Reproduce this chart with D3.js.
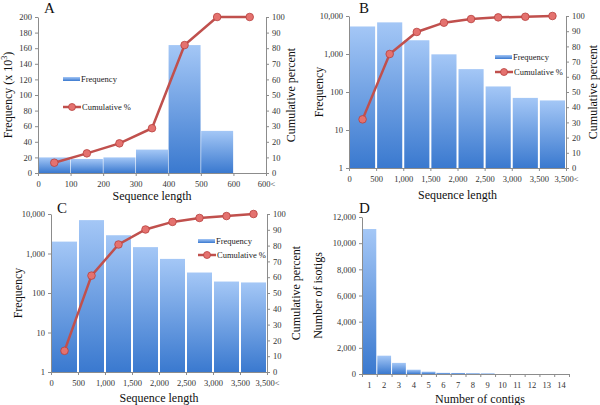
<!DOCTYPE html>
<html>
<head>
<meta charset="utf-8">
<script src="https://cdn.jsdelivr.net/npm/d3@7"></script>
<style>
  body { margin: 0; background: #fff; }
  svg { display: block; font-family: "Liberation Serif", "Times New Roman", serif; }
  .axis path, .axis line { stroke: #8c8c8c; }
</style>
</head>
<body>
<div id="chart"></div>
<script>
// panel A
const aLabels = ["0", "100", "200", "300", "400", "500", "600", "600<"];
const aFreq = [20, 18, 20, 30, 164, 54, 0];
const aCum = [6.6, 12.6, 19, 28.7, 82, 100, 100];

// panel B
const bLabels = ["0", "500", "1,000", "1,500", "2,000", "2,500", "3,000", "3,500", "3,500<"];
const bFreq = [5300, 6800, 2300, 980, 400, 140, 70, 60];
const bCum = [32, 75, 89.5, 95.6, 98, 99.1, 99.5, 100];

// panel C
const cLabels = ["0", "500", "1,000", "1,500", "2,000", "2,500", "3,000", "3,500", "3,500<"];
const cFreq = [2000, 7000, 2900, 1450, 730, 330, 195, 185];
const cCum = [13.4, 61, 80.7, 90.2, 95, 97.5, 98.7, 100];

// panel D
const dLabels = ["1", "2", "3", "4", "5", "6", "7", "8", "9", "10", "11", "12", "13", "14"];
const dCount = [11080, 1400, 850, 330, 180, 90, 80, 60, 50, 0, 0, 0, 0, 0];

const W = 600, H = 405;
const serif = "'Liberation Serif', 'Times New Roman', serif";
const svg = d3.select("#chart").append("svg").attr("width", W).attr("height", H);

const defs = svg.append("defs");
const grad = defs.append("linearGradient")
  .attr("id", "barGrad")
  .attr("x1", 0).attr("y1", 0).attr("x2", 0).attr("y2", 1);
grad.append("stop").attr("offset", "0%").attr("stop-color", "#a4c7f6");
grad.append("stop").attr("offset", "100%").attr("stop-color", "#3a79cf");

const lineColor = "#c0504d";
const dotFill = "#e4726f";

// d3 axes put sans-serif on their group, so set it back here
function styleAxis(a) {
  a.attr("font-family", serif).attr("font-size", 8.5);
  a.selectAll("text").attr("fill", "#333").style("font-family", serif);
}

function histPanel(o) {
  const n = o.freq.length;
  const x = d3.scaleLinear().domain([0, n]).range([o.left, o.right]);
  const y = o.log
    ? d3.scaleLog().domain([1, 10000]).range([o.bottom, o.top])
    : d3.scaleLinear().domain([0, 200]).range([o.bottom, o.top]);
  const y2 = d3.scaleLinear().domain([0, 100]).range([o.bottom, o.top]);

  const g = svg.append("g");

  // bars
  o.freq.forEach((d, i) => {
    if (d <= 0) return;
    g.append("rect")
      .attr("x", x(i) + o.gap / 2)
      .attr("width", x(i + 1) - x(i) - o.gap)
      .attr("y", y(d))
      .attr("height", y(o.log ? 1 : 0) - y(d))
      .attr("fill", "url(#barGrad)");
  });

  // axes
  g.append("g").attr("class", "axis")
    .attr("transform", `translate(0,${o.bottom})`)
    .call(d3.axisBottom(x).tickValues(d3.range(n + 1)).tickFormat(i => o.labels[i]).tickSize(3).tickSizeOuter(0))
    .call(styleAxis)
    .selectAll("text").attr("dy", "0.9em");

  const yAxis = o.log
    ? d3.axisLeft(y).tickValues([1, 10, 100, 1000, 10000]).tickFormat(d3.format(","))
    : d3.axisLeft(y).tickValues(d3.range(0, 201, 20));
  g.append("g").attr("class", "axis")
    .attr("transform", `translate(${o.left},0)`)
    .call(yAxis.tickSize(3).tickSizeOuter(0))
    .call(styleAxis);

  g.append("g").attr("class", "axis")
    .attr("transform", `translate(${o.right},0)`)
    .call(d3.axisRight(y2).tickValues(d3.range(0, 101, 10)).tickSize(3).tickSizeOuter(0))
    .call(styleAxis);

  // cumulative line
  const line = d3.line().x((d, i) => x(i + 0.5)).y(d => y2(d));
  g.append("path")
    .datum(o.cum)
    .attr("fill", "none")
    .attr("stroke", lineColor)
    .attr("stroke-width", 2.5)
    .attr("d", line);
  g.selectAll("circle.pt")
    .data(o.cum)
    .enter()
    .append("circle")
    .attr("class", "pt")
    .attr("cx", (d, i) => x(i + 0.5))
    .attr("cy", d => y2(d))
    .attr("r", 3.8)
    .attr("fill", dotFill)
    .attr("stroke", "#b8403d")
    .attr("stroke-width", 0.8);

  // legend
  g.append("rect")
    .attr("x", o.legX).attr("y", o.legY - 2)
    .attr("width", 17).attr("height", 4)
    .attr("fill", "url(#barGrad)");
  g.append("text")
    .attr("x", o.legX + 18).attr("y", o.legY + 3)
    .attr("font-size", 8.5).attr("fill", "#222")
    .text("Frequency");
  g.append("line")
    .attr("x1", o.legX).attr("x2", o.legX + 18)
    .attr("y1", o.legY + o.legGap).attr("y2", o.legY + o.legGap)
    .attr("stroke", lineColor).attr("stroke-width", 2.5);
  g.append("circle")
    .attr("cx", o.legX + 9).attr("cy", o.legY + o.legGap)
    .attr("r", 3.5).attr("fill", dotFill)
    .attr("stroke", "#b8403d").attr("stroke-width", 0.8);
  g.append("text")
    .attr("x", o.legX + 19).attr("y", o.legY + o.legGap + 3)
    .attr("font-size", 8.5).attr("fill", "#222")
    .text("Cumulative %");

  // titles
  const midY = (o.top + o.bottom) / 2;
  const yt = g.append("text")
    .attr("transform", `translate(${o.yTitleX},${midY}) rotate(-90)`)
    .attr("text-anchor", "middle")
    .attr("font-size", 12).attr("fill", "#111");
  if (o.yTitleSup) {
    yt.append("tspan").text("Frequency (x 10");
    yt.append("tspan").attr("font-size", 8).attr("dy", -5).text("3");
    yt.append("tspan").attr("dy", 5).text(")");
  } else {
    yt.text(o.yTitle);
  }
  g.append("text")
    .attr("transform", `translate(${o.y2TitleX},${midY}) rotate(-90)`)
    .attr("text-anchor", "middle")
    .attr("font-size", 12).attr("fill", "#111")
    .text("Cumulative percent");
  g.append("text")
    .attr("x", (o.left + o.right) / 2).attr("y", o.xTitleY)
    .attr("text-anchor", "middle")
    .attr("font-size", 12).attr("fill", "#111")
    .text("Sequence length");
  g.append("text")
    .attr("x", o.letterX).attr("y", o.letterY)
    .attr("font-size", 15).attr("fill", "#111")
    .text(o.letter);
}

histPanel({
  letter: "A", letterX: 44, letterY: 13,
  labels: aLabels, freq: aFreq, cum: aCum, log: false, gap: 0.6,
  left: 38, right: 266, top: 17, bottom: 173,
  yTitleSup: true, yTitleX: 12, y2TitleX: 295, xTitleY: 200,
  legX: 63, legY: 79, legGap: 28
});

histPanel({
  letter: "B", letterX: 359, letterY: 13,
  labels: bLabels, freq: bFreq, cum: bCum, log: true, gap: 2,
  left: 349, right: 566, top: 16, bottom: 168,
  yTitle: "Frequency", yTitleX: 323, y2TitleX: 597, xTitleY: 199,
  legX: 495, legY: 57, legGap: 15
});

histPanel({
  letter: "C", letterX: 57, letterY: 213,
  labels: cLabels, freq: cFreq, cum: cCum, log: true, gap: 2,
  left: 51, right: 267, top: 214, bottom: 372,
  yTitle: "Frequency", yTitleX: 22, y2TitleX: 300, xTitleY: 402,
  legX: 198, legY: 241, legGap: 14
});

// panel D
(function () {
  const left = 362, right = 569, top = 217, bottom = 374;
  const n = dCount.length;
  const xb = d3.scaleBand().domain(dLabels).range([left, right]);
  const xl = d3.scaleLinear().domain([0, n]).range([left, right]);
  const y = d3.scaleLinear().domain([0, 12000]).range([bottom, top]);
  const g = svg.append("g");

  g.selectAll("rect")
    .data(dCount)
    .enter()
    .append("rect")
    .attr("x", (d, i) => xb(dLabels[i]) + 0.5)
    .attr("width", xb.bandwidth() - 1)
    .attr("y", d => y(d))
    .attr("height", d => bottom - y(d))
    .attr("fill", "url(#barGrad)");

  g.append("g").attr("class", "axis")
    .attr("transform", `translate(0,${bottom})`)
    .call(d3.axisBottom(xl).tickValues(d3.range(n + 1)).tickFormat("").tickSize(3).tickSizeOuter(0))
    .call(styleAxis);
  g.append("g").attr("class", "axis")
    .attr("transform", `translate(0,${bottom})`)
    .call(d3.axisBottom(xb).tickSize(0))
    .call(styleAxis)
    .call(a => a.select(".domain").remove())
    .selectAll("text").attr("dy", "1.25em");

  g.append("g").attr("class", "axis")
    .attr("transform", `translate(${left},0)`)
    .call(d3.axisLeft(y).tickValues(d3.range(0, 12001, 2000)).tickFormat(d3.format(",")).tickSize(3).tickSizeOuter(0))
    .call(styleAxis);

  g.append("text")
    .attr("transform", `translate(322,${(top + bottom) / 2}) rotate(-90)`)
    .attr("text-anchor", "middle")
    .attr("font-size", 12).attr("fill", "#111")
    .text("Number of isotigs");
  g.append("text")
    .attr("x", 480).attr("y", 403)
    .attr("text-anchor", "middle")
    .attr("font-size", 12).attr("fill", "#111")
    .text("Number of contigs");
  g.append("text")
    .attr("x", 359).attr("y", 213)
    .attr("font-size", 15).attr("fill", "#111")
    .text("D");
})();
</script>
</body>
</html>
